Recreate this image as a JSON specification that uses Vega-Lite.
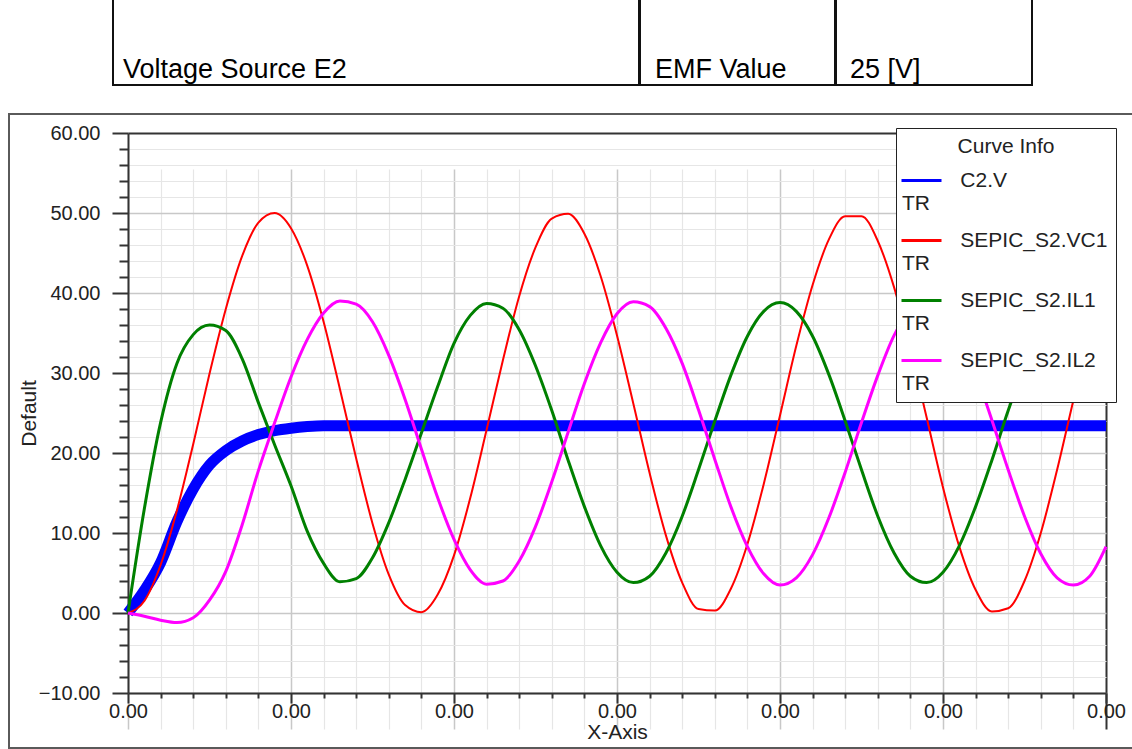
{
  "$schema": "https://vega.github.io/schema/vega-lite/v6.json",
  "background": "white",
  "padding": {"left": 8, "top": -21, "right": 0, "bottom": 0},
  "config": {"font": "Liberation Sans"},
  "spacing": 27,
  "resolve": {"scale": {"color": "independent"}, "legend": {"color": "independent"}},
  "vconcat": [
    {
      "spacing": -2,
      "hconcat": [
        {
          "width": 104, "height": 105,
          "view": {"stroke": null},
          "data": {"values": [{"cell": ""}]},
          "mark": {"type": "text"},
          "encoding": {"text": {"field": "cell"}}
        },
        {
          "width": 526, "height": 105,
          "view": {"stroke": "#111", "strokeWidth": 2},
          "data": {"values": [{"cell": "Voltage Source E2"}]},
          "mark": {"type": "text", "align": "left", "baseline": "alphabetic", "dx": 10, "dy": -7, "fontSize": 27, "color": "#000"},
          "encoding": {
            "text": {"field": "cell"},
            "x": {"datum": 0, "type": "quantitative", "scale": {"domain": [0, 1]}, "axis": null},
            "y": {"datum": 0, "type": "quantitative", "scale": {"domain": [0, 1]}, "axis": null}
          }
        },
        {
          "width": 195, "height": 105,
          "view": {"stroke": "#111", "strokeWidth": 2},
          "data": {"values": [{"cell": "EMF Value"}]},
          "mark": {"type": "text", "align": "left", "baseline": "alphabetic", "dx": 15, "dy": -7, "fontSize": 27, "color": "#000"},
          "encoding": {
            "text": {"field": "cell"},
            "x": {"datum": 0, "type": "quantitative", "scale": {"domain": [0, 1]}, "axis": null},
            "y": {"datum": 0, "type": "quantitative", "scale": {"domain": [0, 1]}, "axis": null}
          }
        },
        {
          "width": 196, "height": 105,
          "view": {"stroke": "#111", "strokeWidth": 2},
          "data": {"values": [{"cell": "25 [V]"}]},
          "mark": {"type": "text", "align": "left", "baseline": "alphabetic", "dx": 14, "dy": -7, "fontSize": 27, "color": "#000"},
          "encoding": {
            "text": {"field": "cell"},
            "x": {"datum": 0, "type": "quantitative", "scale": {"domain": [0, 1]}, "axis": null},
            "y": {"datum": 0, "type": "quantitative", "scale": {"domain": [0, 1]}, "axis": null}
          }
        }
      ]
    },
    {
      "width": 1135, "height": 634,
      "view": {"stroke": "#5a5a5a", "strokeWidth": 2, "fill": "white"},
      "data": {"values": [
        {"s":"C2.V","t":0,"v":0},{"s":"C2.V","t":0.00005,"v":2.8},{"s":"C2.V","t":0.0001,"v":6.3},{"s":"C2.V","t":0.00015,"v":11.4},{"s":"C2.V","t":0.0002,"v":15.5},{"s":"C2.V","t":0.00025,"v":18.5},{"s":"C2.V","t":0.0003,"v":20.3},{"s":"C2.V","t":0.00035,"v":21.5},{"s":"C2.V","t":0.0004,"v":22.3},{"s":"C2.V","t":0.00045,"v":22.8},{"s":"C2.V","t":0.0005,"v":23.1},{"s":"C2.V","t":0.00055,"v":23.3},{"s":"C2.V","t":0.0006,"v":23.4},{"s":"C2.V","t":0.00065,"v":23.4},{"s":"C2.V","t":0.0007,"v":23.4},{"s":"C2.V","t":0.00075,"v":23.4},{"s":"C2.V","t":0.0008,"v":23.4},{"s":"C2.V","t":0.00085,"v":23.4},{"s":"C2.V","t":0.0009,"v":23.4},{"s":"C2.V","t":0.00095,"v":23.4},{"s":"C2.V","t":0.001,"v":23.4},{"s":"C2.V","t":0.00105,"v":23.4},{"s":"C2.V","t":0.0011,"v":23.4},{"s":"C2.V","t":0.00115,"v":23.4},{"s":"C2.V","t":0.0012,"v":23.4},{"s":"C2.V","t":0.00125,"v":23.4},{"s":"C2.V","t":0.0013,"v":23.4},{"s":"C2.V","t":0.00135,"v":23.4},{"s":"C2.V","t":0.0014,"v":23.4},{"s":"C2.V","t":0.00145,"v":23.4},{"s":"C2.V","t":0.0015,"v":23.4},{"s":"C2.V","t":0.00155,"v":23.4},{"s":"C2.V","t":0.0016,"v":23.4},{"s":"C2.V","t":0.00165,"v":23.4},{"s":"C2.V","t":0.0017,"v":23.4},{"s":"C2.V","t":0.00175,"v":23.4},{"s":"C2.V","t":0.0018,"v":23.4},{"s":"C2.V","t":0.00185,"v":23.4},{"s":"C2.V","t":0.0019,"v":23.4},{"s":"C2.V","t":0.00195,"v":23.4},{"s":"C2.V","t":0.002,"v":23.4},{"s":"C2.V","t":0.00205,"v":23.4},{"s":"C2.V","t":0.0021,"v":23.4},{"s":"C2.V","t":0.00215,"v":23.4},{"s":"C2.V","t":0.0022,"v":23.4},{"s":"C2.V","t":0.00225,"v":23.4},{"s":"C2.V","t":0.0023,"v":23.4},{"s":"C2.V","t":0.00235,"v":23.4},{"s":"C2.V","t":0.0024,"v":23.4},{"s":"C2.V","t":0.00245,"v":23.4},{"s":"C2.V","t":0.0025,"v":23.4},{"s":"C2.V","t":0.00255,"v":23.4},{"s":"C2.V","t":0.0026,"v":23.4},{"s":"C2.V","t":0.00265,"v":23.4},{"s":"C2.V","t":0.0027,"v":23.4},{"s":"C2.V","t":0.00275,"v":23.4},{"s":"C2.V","t":0.0028,"v":23.4},{"s":"C2.V","t":0.00285,"v":23.4},{"s":"C2.V","t":0.0029,"v":23.4},{"s":"C2.V","t":0.00295,"v":23.4},{"s":"C2.V","t":0.003,"v":23.4},
        {"s":"SEPIC_S2.VC1","t":0,"v":0},{"s":"SEPIC_S2.VC1","t":0.00005,"v":1.5},{"s":"SEPIC_S2.VC1","t":0.0001,"v":6.0},{"s":"SEPIC_S2.VC1","t":0.00015,"v":12.8},{"s":"SEPIC_S2.VC1","t":0.0002,"v":21.1},{"s":"SEPIC_S2.VC1","t":0.00025,"v":29.9},{"s":"SEPIC_S2.VC1","t":0.0003,"v":38.0},{"s":"SEPIC_S2.VC1","t":0.00035,"v":44.6},{"s":"SEPIC_S2.VC1","t":0.0004,"v":48.8},{"s":"SEPIC_S2.VC1","t":0.00045,"v":50.0},{"s":"SEPIC_S2.VC1","t":0.0005,"v":48.1},{"s":"SEPIC_S2.VC1","t":0.00055,"v":43.4},{"s":"SEPIC_S2.VC1","t":0.0006,"v":36.4},{"s":"SEPIC_S2.VC1","t":0.00065,"v":28.0},{"s":"SEPIC_S2.VC1","t":0.0007,"v":19.3},{"s":"SEPIC_S2.VC1","t":0.00075,"v":11.2},{"s":"SEPIC_S2.VC1","t":0.0008,"v":4.8},{"s":"SEPIC_S2.VC1","t":0.00085,"v":1.0},{"s":"SEPIC_S2.VC1","t":0.0009,"v":0.1},{"s":"SEPIC_S2.VC1","t":0.00095,"v":2.3},{"s":"SEPIC_S2.VC1","t":0.001,"v":7.2},{"s":"SEPIC_S2.VC1","t":0.00105,"v":14.4},{"s":"SEPIC_S2.VC1","t":0.0011,"v":22.9},{"s":"SEPIC_S2.VC1","t":0.00115,"v":31.6},{"s":"SEPIC_S2.VC1","t":0.0012,"v":39.6},{"s":"SEPIC_S2.VC1","t":0.00125,"v":45.7},{"s":"SEPIC_S2.VC1","t":0.0013,"v":49.3},{"s":"SEPIC_S2.VC1","t":0.00135,"v":49.9},{"s":"SEPIC_S2.VC1","t":0.0014,"v":47.4},{"s":"SEPIC_S2.VC1","t":0.00145,"v":42.1},{"s":"SEPIC_S2.VC1","t":0.0015,"v":34.7},{"s":"SEPIC_S2.VC1","t":0.00155,"v":26.2},{"s":"SEPIC_S2.VC1","t":0.0016,"v":17.5},{"s":"SEPIC_S2.VC1","t":0.00165,"v":9.7},{"s":"SEPIC_S2.VC1","t":0.0017,"v":3.8},{"s":"SEPIC_S2.VC1","t":0.00175,"v":0.5},{"s":"SEPIC_S2.VC1","t":0.0018,"v":0.3},{"s":"SEPIC_S2.VC1","t":0.00185,"v":3.1},{"s":"SEPIC_S2.VC1","t":0.0019,"v":8.6},{"s":"SEPIC_S2.VC1","t":0.00195,"v":16.1},{"s":"SEPIC_S2.VC1","t":0.002,"v":24.7},{"s":"SEPIC_S2.VC1","t":0.00205,"v":33.4},{"s":"SEPIC_S2.VC1","t":0.0021,"v":41.0},{"s":"SEPIC_S2.VC1","t":0.00215,"v":46.7},{"s":"SEPIC_S2.VC1","t":0.0022,"v":49.6},{"s":"SEPIC_S2.VC1","t":0.00225,"v":49.6},{"s":"SEPIC_S2.VC1","t":0.0023,"v":46.5},{"s":"SEPIC_S2.VC1","t":0.00235,"v":40.7},{"s":"SEPIC_S2.VC1","t":0.0024,"v":33.0},{"s":"SEPIC_S2.VC1","t":0.00245,"v":24.4},{"s":"SEPIC_S2.VC1","t":0.0025,"v":15.7},{"s":"SEPIC_S2.VC1","t":0.00255,"v":8.3},{"s":"SEPIC_S2.VC1","t":0.0026,"v":2.9},{"s":"SEPIC_S2.VC1","t":0.00265,"v":0.2},{"s":"SEPIC_S2.VC1","t":0.0027,"v":0.6},{"s":"SEPIC_S2.VC1","t":0.00275,"v":4.0},{"s":"SEPIC_S2.VC1","t":0.0028,"v":10.0},{"s":"SEPIC_S2.VC1","t":0.00285,"v":17.9},{"s":"SEPIC_S2.VC1","t":0.0029,"v":26.6},{"s":"SEPIC_S2.VC1","t":0.00295,"v":35.1},{"s":"SEPIC_S2.VC1","t":0.003,"v":42.4},
        {"s":"SEPIC_S2.IL1","t":0,"v":0},{"s":"SEPIC_S2.IL1","t":0.00005,"v":13.0},{"s":"SEPIC_S2.IL1","t":0.0001,"v":23.8},{"s":"SEPIC_S2.IL1","t":0.00015,"v":31.2},{"s":"SEPIC_S2.IL1","t":0.0002,"v":34.8},{"s":"SEPIC_S2.IL1","t":0.00025,"v":36.0},{"s":"SEPIC_S2.IL1","t":0.0003,"v":35.3},{"s":"SEPIC_S2.IL1","t":0.00035,"v":31.8},{"s":"SEPIC_S2.IL1","t":0.0004,"v":26.3},{"s":"SEPIC_S2.IL1","t":0.00045,"v":21.0},{"s":"SEPIC_S2.IL1","t":0.0005,"v":15.9},{"s":"SEPIC_S2.IL1","t":0.00055,"v":10.2},{"s":"SEPIC_S2.IL1","t":0.0006,"v":6.2},{"s":"SEPIC_S2.IL1","t":0.00065,"v":3.9},{"s":"SEPIC_S2.IL1","t":0.0007,"v":4.3},{"s":"SEPIC_S2.IL1","t":0.00075,"v":6.9},{"s":"SEPIC_S2.IL1","t":0.0008,"v":11.3},{"s":"SEPIC_S2.IL1","t":0.00085,"v":16.7},{"s":"SEPIC_S2.IL1","t":0.0009,"v":22.5},{"s":"SEPIC_S2.IL1","t":0.00095,"v":28.3},{"s":"SEPIC_S2.IL1","t":0.001,"v":33.7},{"s":"SEPIC_S2.IL1","t":0.00105,"v":37.2},{"s":"SEPIC_S2.IL1","t":0.0011,"v":38.7},{"s":"SEPIC_S2.IL1","t":0.00115,"v":38.1},{"s":"SEPIC_S2.IL1","t":0.0012,"v":35.4},{"s":"SEPIC_S2.IL1","t":0.00125,"v":30.9},{"s":"SEPIC_S2.IL1","t":0.0013,"v":25.3},{"s":"SEPIC_S2.IL1","t":0.00135,"v":19.1},{"s":"SEPIC_S2.IL1","t":0.0014,"v":13.3},{"s":"SEPIC_S2.IL1","t":0.00145,"v":8.4},{"s":"SEPIC_S2.IL1","t":0.0015,"v":5.1},{"s":"SEPIC_S2.IL1","t":0.00155,"v":3.8},{"s":"SEPIC_S2.IL1","t":0.0016,"v":4.6},{"s":"SEPIC_S2.IL1","t":0.00165,"v":7.5},{"s":"SEPIC_S2.IL1","t":0.0017,"v":12.1},{"s":"SEPIC_S2.IL1","t":0.00175,"v":17.9},{"s":"SEPIC_S2.IL1","t":0.0018,"v":24.0},{"s":"SEPIC_S2.IL1","t":0.00185,"v":29.8},{"s":"SEPIC_S2.IL1","t":0.0019,"v":34.6},{"s":"SEPIC_S2.IL1","t":0.00195,"v":37.7},{"s":"SEPIC_S2.IL1","t":0.002,"v":38.8},{"s":"SEPIC_S2.IL1","t":0.00205,"v":37.7},{"s":"SEPIC_S2.IL1","t":0.0021,"v":34.6},{"s":"SEPIC_S2.IL1","t":0.00215,"v":29.8},{"s":"SEPIC_S2.IL1","t":0.0022,"v":24.0},{"s":"SEPIC_S2.IL1","t":0.00225,"v":17.9},{"s":"SEPIC_S2.IL1","t":0.0023,"v":12.1},{"s":"SEPIC_S2.IL1","t":0.00235,"v":7.5},{"s":"SEPIC_S2.IL1","t":0.0024,"v":4.6},{"s":"SEPIC_S2.IL1","t":0.00245,"v":3.8},{"s":"SEPIC_S2.IL1","t":0.0025,"v":5.1},{"s":"SEPIC_S2.IL1","t":0.00255,"v":8.4},{"s":"SEPIC_S2.IL1","t":0.0026,"v":13.3},{"s":"SEPIC_S2.IL1","t":0.00265,"v":19.1},{"s":"SEPIC_S2.IL1","t":0.0027,"v":25.3},{"s":"SEPIC_S2.IL1","t":0.00275,"v":30.9},{"s":"SEPIC_S2.IL1","t":0.0028,"v":35.4},{"s":"SEPIC_S2.IL1","t":0.00285,"v":38.1},{"s":"SEPIC_S2.IL1","t":0.0029,"v":38.7},{"s":"SEPIC_S2.IL1","t":0.00295,"v":37.2},{"s":"SEPIC_S2.IL1","t":0.003,"v":33.7},
        {"s":"SEPIC_S2.IL2","t":0,"v":0},{"s":"SEPIC_S2.IL2","t":0.00005,"v":-0.4},{"s":"SEPIC_S2.IL2","t":0.0001,"v":-0.9},{"s":"SEPIC_S2.IL2","t":0.00015,"v":-1.2},{"s":"SEPIC_S2.IL2","t":0.0002,"v":-0.6},{"s":"SEPIC_S2.IL2","t":0.00025,"v":1.6},{"s":"SEPIC_S2.IL2","t":0.0003,"v":5.2},{"s":"SEPIC_S2.IL2","t":0.00035,"v":11.0},{"s":"SEPIC_S2.IL2","t":0.0004,"v":17.8},{"s":"SEPIC_S2.IL2","t":0.00045,"v":23.8},{"s":"SEPIC_S2.IL2","t":0.0005,"v":29.5},{"s":"SEPIC_S2.IL2","t":0.00055,"v":34.2},{"s":"SEPIC_S2.IL2","t":0.0006,"v":37.5},{"s":"SEPIC_S2.IL2","t":0.00065,"v":39.0},{"s":"SEPIC_S2.IL2","t":0.0007,"v":38.6},{"s":"SEPIC_S2.IL2","t":0.00075,"v":36.4},{"s":"SEPIC_S2.IL2","t":0.0008,"v":32.2},{"s":"SEPIC_S2.IL2","t":0.00085,"v":26.7},{"s":"SEPIC_S2.IL2","t":0.0009,"v":20.5},{"s":"SEPIC_S2.IL2","t":0.00095,"v":14.4},{"s":"SEPIC_S2.IL2","t":0.001,"v":9.2},{"s":"SEPIC_S2.IL2","t":0.00105,"v":5.4},{"s":"SEPIC_S2.IL2","t":0.0011,"v":3.6},{"s":"SEPIC_S2.IL2","t":0.00115,"v":4.0},{"s":"SEPIC_S2.IL2","t":0.0012,"v":6.5},{"s":"SEPIC_S2.IL2","t":0.00125,"v":10.8},{"s":"SEPIC_S2.IL2","t":0.0013,"v":16.4},{"s":"SEPIC_S2.IL2","t":0.00135,"v":22.6},{"s":"SEPIC_S2.IL2","t":0.0014,"v":28.7},{"s":"SEPIC_S2.IL2","t":0.00145,"v":33.8},{"s":"SEPIC_S2.IL2","t":0.0015,"v":37.4},{"s":"SEPIC_S2.IL2","t":0.00155,"v":38.9},{"s":"SEPIC_S2.IL2","t":0.0016,"v":38.3},{"s":"SEPIC_S2.IL2","t":0.00165,"v":35.6},{"s":"SEPIC_S2.IL2","t":0.0017,"v":31.2},{"s":"SEPIC_S2.IL2","t":0.00175,"v":25.4},{"s":"SEPIC_S2.IL2","t":0.0018,"v":19.2},{"s":"SEPIC_S2.IL2","t":0.00185,"v":13.2},{"s":"SEPIC_S2.IL2","t":0.0019,"v":8.3},{"s":"SEPIC_S2.IL2","t":0.00195,"v":4.9},{"s":"SEPIC_S2.IL2","t":0.002,"v":3.5},{"s":"SEPIC_S2.IL2","t":0.00205,"v":4.4},{"s":"SEPIC_S2.IL2","t":0.0021,"v":7.3},{"s":"SEPIC_S2.IL2","t":0.00215,"v":11.9},{"s":"SEPIC_S2.IL2","t":0.0022,"v":17.6},{"s":"SEPIC_S2.IL2","t":0.00225,"v":23.8},{"s":"SEPIC_S2.IL2","t":0.0023,"v":29.7},{"s":"SEPIC_S2.IL2","t":0.00235,"v":34.7},{"s":"SEPIC_S2.IL2","t":0.0024,"v":37.9},{"s":"SEPIC_S2.IL2","t":0.00245,"v":39.0},{"s":"SEPIC_S2.IL2","t":0.0025,"v":37.9},{"s":"SEPIC_S2.IL2","t":0.00255,"v":34.8},{"s":"SEPIC_S2.IL2","t":0.0026,"v":30.0},{"s":"SEPIC_S2.IL2","t":0.00265,"v":24.1},{"s":"SEPIC_S2.IL2","t":0.0027,"v":17.9},{"s":"SEPIC_S2.IL2","t":0.00275,"v":12.1},{"s":"SEPIC_S2.IL2","t":0.0028,"v":7.4},{"s":"SEPIC_S2.IL2","t":0.00285,"v":4.4},{"s":"SEPIC_S2.IL2","t":0.0029,"v":3.5},{"s":"SEPIC_S2.IL2","t":0.00295,"v":4.6},{"s":"SEPIC_S2.IL2","t":0.003,"v":8.3}
      ]},
      "encoding": {
        "x": {
          "field": "t", "type": "quantitative",
          "scale": {"domain": [0, 0.003], "range": [119, 1097], "nice": false, "zero": false},
          "axis": {
            "orient": "bottom", "offset": -55,
            "values": [0,0.0001,0.0002,0.0003,0.0004,0.0005,0.0006,0.0007,0.0008,0.0009,0.001,0.0011,0.0012,0.0013,0.0014,0.0015,0.0016,0.0017,0.0018,0.0019,0.002,0.0021,0.0022,0.0023,0.0024,0.0025,0.0026,0.0027,0.0028,0.0029,0.003],
            "labelExpr": "round(datum.value*10000) % 5 == 0 ? format(datum.value, '.2f') : ''",
            "labelFontSize": 20, "labelColor": "#222", "labelOverlap": false, "labelFlush": false, "labelBound": false, "labelPadding": -2,
            "tickSize": {"condition": {"test": "round(datum.value*10000) % 5 == 0", "value": 10}, "value": 5},
            "tickColor": "#333", "tickWidth": 2,
            "domainColor": "#333", "domainWidth": 2,
            "grid": true,
            "gridColor": {"condition": [{"test": "datum.value > 0.00299", "value": "#333"}, {"test": "round(datum.value*10000) % 5 == 0", "value": "#c8c8c8"}], "value": "#e6e6e6"},
            "gridWidth": {"condition": [{"test": "datum.value > 0.00299", "value": 2}, {"test": "round(datum.value*10000) % 5 == 0", "value": 1.5}], "value": 1.2},
            "title": "X-Axis", "titleFontSize": 21, "titleFontWeight": "normal", "titleColor": "#222", "titlePadding": 0
          }
        },
        "y": {
          "field": "v", "type": "quantitative",
          "scale": {"domain": [-10, 60], "range": [579, 19], "nice": false, "zero": false},
          "axis": {
            "orient": "left", "offset": -119,
            "values": [-10,-8,-6,-4,-2,0,2,4,6,8,10,12,14,16,18,20,22,24,26,28,30,32,34,36,38,40,42,44,46,48,50,52,54,56,58,60],
            "labelExpr": "datum.value % 10 == 0 ? format(datum.value, '.2f') : ''",
            "labelFontSize": 20, "labelColor": "#222", "labelOverlap": false, "labelFlush": false, "labelBound": false, "labelPadding": 12,
            "tickSize": {"condition": {"test": "datum.value % 10 == 0", "value": 16}, "value": 9},
            "tickColor": "#333", "tickWidth": 2,
            "domainColor": "#333", "domainWidth": 2,
            "grid": true,
            "gridColor": {"condition": [{"test": "datum.value >= 60", "value": "#333"}, {"test": "datum.value % 10 == 0", "value": "#c8c8c8"}], "value": "#e6e6e6"},
            "gridWidth": {"condition": [{"test": "datum.value >= 60", "value": 2}, {"test": "datum.value % 10 == 0", "value": 1.5}], "value": 1.2},
            "title": "Default", "titleFontSize": 21, "titleFontWeight": "normal", "titleColor": "#222", "titlePadding": -1
          }
        },
        "color": {
          "field": "s", "type": "nominal",
          "scale": {"domain": ["C2.V", "SEPIC_S2.VC1", "SEPIC_S2.IL1", "SEPIC_S2.IL2"], "range": ["#0000ff", "#ff0000", "#008000", "#ff00ff"]},
          "legend": {
            "orient": "none", "legendX": 887, "legendY": 14, "direction": "vertical",
            "title": "Curve Info", "titleAnchor": "middle", "titleFontSize": 21, "titleFontWeight": "normal", "titleColor": "#222", "titlePadding": 2,
            "labelExpr": "['\u200b\u00a0\u00a0\u00a0\u00a0\u00a0\u00a0\u00a0\u00a0\u00a0\u00a0' + datum.label, 'TR']",
            "labelFontSize": 21, "labelColor": "#222", "labelLimit": 400, "labelOffset": -41, "labelBaseline": "middle",
            "symbolType": "stroke", "symbolSize": 1600, "symbolStrokeWidth": 3, "symbolOffset": -4,
            "padding": 8, "rowPadding": 5,
            "fillColor": "white", "strokeColor": "#222"
          }
        }
      },
      "layer": [
        {"transform": [{"filter": {"field": "s", "equal": "C2.V"}}], "mark": {"type": "line", "interpolate": "monotone", "strokeWidth": 11}},
        {"transform": [{"filter": {"field": "s", "equal": "SEPIC_S2.VC1"}}], "mark": {"type": "line", "interpolate": "monotone", "strokeWidth": 2}},
        {"transform": [{"filter": {"field": "s", "equal": "SEPIC_S2.IL1"}}], "mark": {"type": "line", "interpolate": "monotone", "strokeWidth": 3}},
        {"transform": [{"filter": {"field": "s", "equal": "SEPIC_S2.IL2"}}], "mark": {"type": "line", "interpolate": "monotone", "strokeWidth": 3}}
      ]
    }
  ]
}
